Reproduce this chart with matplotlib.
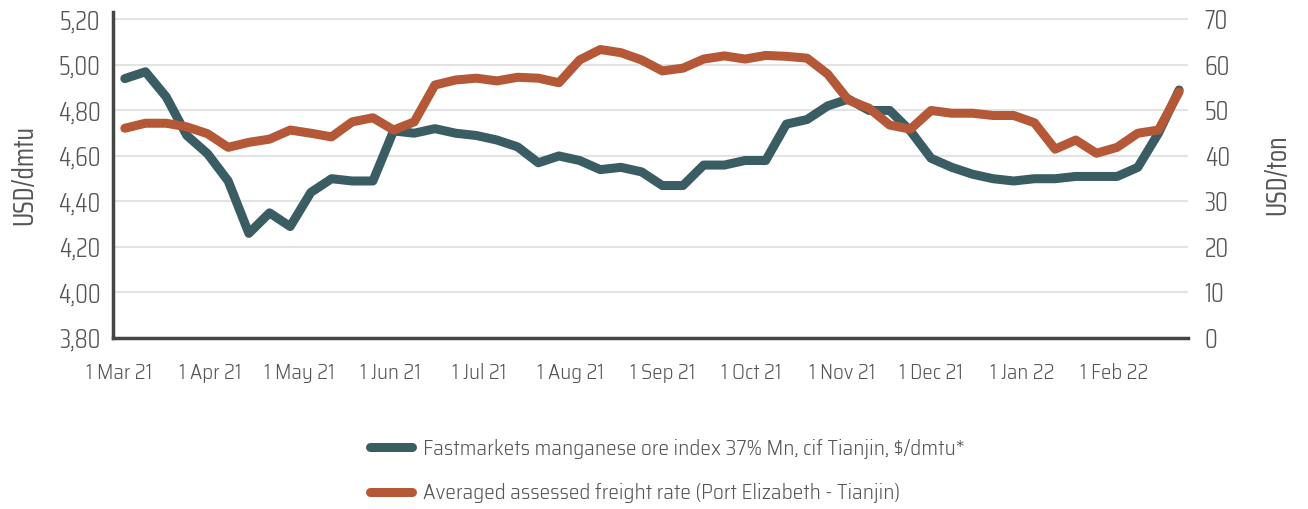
import matplotlib
matplotlib.use("Agg")
import matplotlib.pyplot as plt
from matplotlib.ticker import FuncFormatter, MultipleLocator
import pandas as pd

# ---------------- data ----------------
start_date = "2021-03-03"
n_weeks = 52
manganese = [4.94, 4.97, 4.86, 4.69, 4.61, 4.49, 4.26, 4.35, 4.29, 4.44,
             4.50, 4.49, 4.49, 4.71, 4.70, 4.72, 4.70, 4.69, 4.67, 4.64,
             4.57, 4.60, 4.58, 4.54, 4.55, 4.53, 4.47, 4.47, 4.56, 4.56,
             4.58, 4.58, 4.74, 4.76, 4.82, 4.85, 4.80, 4.80, 4.71, 4.59,
             4.55, 4.52, 4.50, 4.49, 4.50, 4.50, 4.51, 4.51, 4.51, 4.55,
             4.70, 4.89]
freight = [46.1, 47.2, 47.2, 46.4, 44.9, 41.9, 43.0, 43.7, 45.7, 45.0,
           44.2, 47.5, 48.4, 45.7, 47.5, 55.6, 56.7, 57.1, 56.5, 57.3,
           57.1, 56.1, 61.1, 63.4, 62.7, 61.1, 58.7, 59.3, 61.3, 62.0,
           61.3, 62.1, 61.9, 61.5, 58.0, 52.3, 50.5, 46.8, 45.9, 50.0,
           49.4, 49.4, 48.9, 48.9, 47.3, 41.5, 43.5, 40.6, 41.9, 45.0,
           45.7, 54.1]
tick_dates = ["2021-03-01", "2021-04-01", "2021-05-01", "2021-06-01",
              "2021-07-01", "2021-08-01", "2021-09-01", "2021-10-01",
              "2021-11-01", "2021-12-01", "2022-01-01", "2022-02-01"]
tick_labels = ["1 Mar 21", "1 Apr 21", "1 May 21", "1 Jun 21", "1 Jul 21",
               "1 Aug 21", "1 Sep 21", "1 Oct 21", "1 Nov 21", "1 Dec 21",
               "1 Jan 22", "1 Feb 22"]
label_mn = "Fastmarkets manganese ore index 37% Mn, cif Tianjin, $/dmtu*"
label_fr = "Averaged assessed freight rate (Port Elizabeth - Tianjin)"
left_label = "USD/dmtu"
right_label = "USD/ton"

# ---------------- style ----------------
COND = ['Saira Condensed', 'DejaVu Sans']
SEMI = ['Saira SemiCondensed', 'DejaVu Sans']
plt.rcParams['font.family'] = COND
plt.rcParams['font.weight'] = 300

text_col = "#555555"
dark = "#3a5c63"
orange = "#b45837"

dates = pd.date_range(start_date, periods=n_weeks, freq="7D")

fig = plt.figure(figsize=(13.08, 5.09), dpi=100)
ax = fig.add_axes([113/1308, 1-338/509, (1188-113)/1308, (338-11.7)/509])
ax2 = ax.twinx()

ax.plot(dates, manganese, color=dark, lw=6.5, solid_capstyle='round',
        solid_joinstyle='round', label=label_mn, zorder=3)
ax2.plot(dates, freight, color=orange, lw=6.5, solid_capstyle='round',
         solid_joinstyle='round', label=label_fr, zorder=3)

ax.set_ylim(3.8, 5.234)
ax2.set_ylim(0, 71.71)
ax.set_xlim(pd.Timestamp("2021-02-27"), pd.Timestamp("2022-02-26"))

ax.yaxis.set_major_locator(MultipleLocator(0.2))
ax2.yaxis.set_major_locator(MultipleLocator(10))
ax.yaxis.set_major_formatter(FuncFormatter(lambda v, p: f"{v:.2f}".replace('.', ',')))
ax2.yaxis.set_major_formatter(FuncFormatter(lambda v, p: f"{v:.0f}"))

ax.set_xticks(pd.to_datetime(tick_dates))
ax.set_xticklabels(tick_labels, family=SEMI)

ax.grid(axis='y', color='#e3e3e3', lw=1.5, zorder=0)
ax.set_axisbelow(True)
for a in (ax, ax2):
    for s in ('top', 'right', 'left', 'bottom'):
        a.spines[s].set_visible(False)
for s in ('left', 'bottom'):
    ax.spines[s].set_visible(True)
    ax.spines[s].set_linewidth(2.5)
    ax.spines[s].set_color('#444444')

ax.tick_params(axis='y', length=0, pad=9, labelsize=19, labelcolor=text_col)
ax2.tick_params(axis='y', length=0, pad=12, labelsize=19, labelcolor=text_col)
ax.tick_params(axis='x', length=0, pad=18, labelsize=15, labelcolor=text_col)

ax.set_ylabel(left_label, fontsize=20, color=text_col, labelpad=14)
ax2.set_ylabel(right_label, fontsize=20, color=text_col, labelpad=24)

h1, l1 = ax.get_legend_handles_labels()
h2, l2 = ax2.get_legend_handles_labels()
fig.legend(h1 + h2, l1 + l2, loc='center', bbox_to_anchor=(667/1308, 1-471/509),
           frameon=False, prop={'family': SEMI, 'size': 15.3, 'weight': 300},
           labelcolor=text_col, handlelength=2.0,
           handletextpad=0.5, labelspacing=1.15)

fig.savefig("out.png", dpi=100)
